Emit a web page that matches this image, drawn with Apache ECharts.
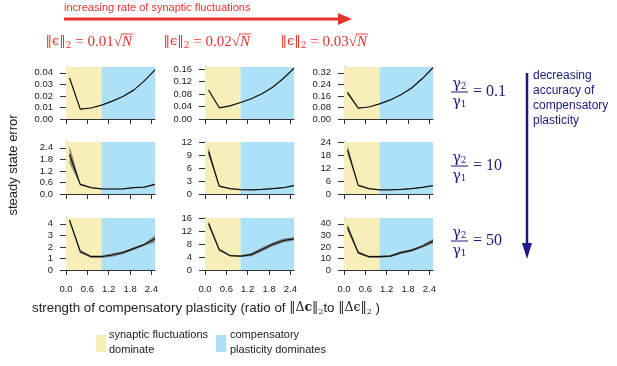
<!DOCTYPE html>
<html>
<head>
<meta charset="utf-8">
<script src="https://cdn.jsdelivr.net/npm/echarts@6/dist/echarts.min.js"></script>
<style>
html, body { margin: 0; padding: 0; background: #fff; }
#main { width: 617px; height: 366px; }
</style>
</head>
<body>
<div id="main"></div>
<script>
// strength of compensatory plasticity (x) shared by all panels
var xs = [0.1, 0.4, 0.7, 1.0, 1.3, 1.6, 1.9, 2.2, 2.5];
var xTicks = [0, 0.6, 1.2, 1.8, 2.4];
var xEnd = 2.5;
var switchX = 1.0; // synaptic fluctuations dominate below, compensatory plasticity above

// row 1 : gamma2/gamma1 = 0.1
var err_r1c1 = [0.0355, 0.0085, 0.0095, 0.012, 0.0155, 0.0195, 0.025, 0.033, 0.0425];
var sd_r1c1  = [0.0005, 0.0002, 0.0002, 0.0002, 0.0002, 0.0002, 0.0002, 0.0003, 0.0003];
var err_r1c2 = [0.093, 0.036, 0.042, 0.053, 0.065, 0.081, 0.102, 0.13, 0.163];
var sd_r1c2  = [0.002, 0.001, 0.001, 0.001, 0.001, 0.001, 0.001, 0.001, 0.001];
var err_r1c3 = [0.182, 0.075, 0.083, 0.105, 0.132, 0.168, 0.215, 0.28, 0.355];
var sd_r1c3  = [0.012, 0.002, 0.002, 0.002, 0.002, 0.002, 0.003, 0.004, 0.003];
// row 2 : gamma2/gamma1 = 10
var err_r2c1 = [2.05, 0.5, 0.33, 0.27, 0.26, 0.27, 0.33, 0.36, 0.5];
var sd_r2c1  = [0.45, 0.04, 0.02, 0.02, 0.02, 0.02, 0.02, 0.02, 0.03];
var err_r2c2 = [9.8, 1.8, 1.25, 1.0, 0.95, 1.05, 1.25, 1.45, 1.95];
var sd_r2c2  = [1.0, 0.15, 0.08, 0.06, 0.06, 0.06, 0.08, 0.08, 0.1];
var err_r2c3 = [20.5, 4.0, 2.5, 1.9, 1.9, 2.1, 2.5, 3.1, 3.9];
var sd_r2c3  = [2.0, 0.3, 0.15, 0.1, 0.1, 0.12, 0.15, 0.15, 0.2];
// row 3 : gamma2/gamma1 = 50
var err_r3c1 = [4.3, 1.6, 1.15, 1.15, 1.3, 1.5, 1.85, 2.2, 2.7];
var sd_r3c1  = [0.12, 0.15, 0.1, 0.1, 0.15, 0.12, 0.12, 0.1, 0.3];
var err_r3c2 = [14.5, 6.3, 4.5, 4.3, 4.8, 6.4, 8.0, 9.2, 9.7];
var sd_r3c2  = [0.8, 0.4, 0.25, 0.25, 0.5, 0.6, 0.6, 0.6, 0.5];
var err_r3c3 = [37, 15, 11.5, 11.5, 12, 15, 17, 20.5, 25];
var sd_r3c3  = [3.0, 1.2, 0.8, 0.8, 1.0, 1.2, 1.2, 1.2, 2.0];

// y tick labels per panel
var yTicks_r1c1 = [0, 0.01, 0.02, 0.03, 0.04];
var yTicks_r1c2 = [0, 0.04, 0.08, 0.12, 0.16];
var yTicks_r1c3 = [0, 0.08, 0.16, 0.24, 0.32];
var yTicks_r2c1 = [0, 0.6, 1.2, 1.8, 2.4];
var yTicks_r2c2 = [0, 3, 6, 9, 12];
var yTicks_r2c3 = [0, 6, 12, 18, 24];
var yTicks_r3c1 = [0, 1, 2, 3, 4];
var yTicks_r3c2 = [0, 4, 8, 12, 16];
var yTicks_r3c3 = [0, 10, 20, 30, 40];

var epsLabels = ['0.01', '0.02', '0.03'];
var gammaLabels = ['0.1', '10', '50'];

var panels = [
    {mean: err_r1c1, sd: sd_r1c1, ticks: yTicks_r1c1, max: 0.045, dec: 2},
    {mean: err_r1c2, sd: sd_r1c2, ticks: yTicks_r1c2, max: 0.167, dec: 2},
    {mean: err_r1c3, sd: sd_r1c3, ticks: yTicks_r1c3, max: 0.36,  dec: 2},
    {mean: err_r2c1, sd: sd_r2c1, ticks: yTicks_r2c1, max: 2.7,   dec: 1},
    {mean: err_r2c2, sd: sd_r2c2, ticks: yTicks_r2c2, max: 12,    dec: 0},
    {mean: err_r2c3, sd: sd_r2c3, ticks: yTicks_r2c3, max: 24,    dec: 0},
    {mean: err_r3c1, sd: sd_r3c1, ticks: yTicks_r3c1, max: 4.5,   dec: 0},
    {mean: err_r3c2, sd: sd_r3c2, ticks: yTicks_r3c2, max: 16.2,  dec: 0},
    {mean: err_r3c3, sd: sd_r3c3, ticks: yTicks_r3c3, max: 45,    dec: 0}
];

var colLeft = [66, 205, 344];
var rowTop = [67, 142, 218];
var YELLOW = '#f7eeb8', BLUE = '#ade1f7';
var RED = '#e8332c', NAVY = '#1a1a80';
var SANS = '"Liberation Sans", Arial, sans-serif';
var SERIF = '"DejaVu Serif", serif';
var TIMES = '"Liberation Serif", serif';

var grids = [], xAxes = [], yAxes = [], series = [];

// polygon of mean +- spread, placed through the grid's own axes
function bandRenderer(p) {
    return function (params, api) {
        var pts = [];
        for (var k = 0; k < xs.length; k++) {
            pts.push(api.coord([xs[k], p.mean[k] + p.sd[k]]));
        }
        for (var k = xs.length - 1; k >= 0; k--) {
            pts.push(api.coord([xs[k], p.mean[k] - p.sd[k]]));
        }
        return {type: 'polygon', shape: {points: pts}, style: {fill: '#6f6f6f', opacity: 0.8}};
    };
}

panels.forEach(function (p, i) {
    var r = Math.floor(i / 3), c = i % 3;
    grids.push({left: colLeft[c], top: rowTop[r], width: 89, height: 52});
    xAxes.push({
        type: 'value', gridIndex: i, min: 0, max: xEnd, offset: 10,
        axisLine: {show: true, lineStyle: {color: '#333', width: 1}},
        axisTick: {show: true, customValues: xTicks, length: 5, lineStyle: {color: '#333'}},
        axisLabel: {
            show: r === 2, customValues: xTicks, margin: 4,
            fontSize: 9.5, fontFamily: SANS, color: '#222',
            formatter: function (v) { return v.toFixed(1); }
        },
        splitLine: {show: false}
    });
    yAxes.push({
        type: 'value', gridIndex: i, min: 0, max: p.max, offset: 4,
        axisLine: {show: true, lineStyle: {color: '#333', width: 1}},
        axisTick: {show: true, customValues: p.ticks, length: 6, lineStyle: {color: '#333'}},
        axisLabel: {
            customValues: p.ticks, margin: 9,
            fontSize: 9.5, fontFamily: SANS, color: '#222',
            formatter: function (v) { return v.toFixed(p.dec); }
        },
        splitLine: {show: false}
    });

    series.push({
        type: 'custom', xAxisIndex: i, yAxisIndex: i, silent: true, clip: true, z: 3,
        data: [[xs[0], p.mean[0]]],
        renderItem: bandRenderer(p)
    });
    series.push({
        type: 'line', xAxisIndex: i, yAxisIndex: i, z: 4,
        symbol: 'none', silent: true,
        lineStyle: {color: '#111', width: 1.2},
        data: xs.map(function (x, k) { return [x, p.mean[k]]; }),
        markArea: {
            silent: true, z: 1,
            data: [
                [{xAxis: 0, itemStyle: {color: YELLOW}}, {xAxis: switchX}],
                [{xAxis: switchX, itemStyle: {color: BLUE}}, {xAxis: xEnd}]
            ]
        }
    });
});

// ||eps||_2 = 0.01 sqrt(N) ; xr = where the N starts
function header(xr, txt) {
    return [
        {type: 'text', x: xr, y: 42,
            style: {
                text: '{e|‖ϵ‖}{b|2}{a| = ' + txt + '√}',
                align: 'right', verticalAlign: 'middle',
                rich: {
                    e: {fontSize: 13, fontFamily: SERIF, fill: RED},
                    a: {fontSize: 15, fontFamily: TIMES, fill: RED},
                    b: {fontSize: 9, fontFamily: SERIF, fill: RED, padding: [7, 0, 0, 0]}
                }
            }},
        {type: 'text', x: xr, y: 42,
            style: {text: 'N', font: 'italic 15px ' + TIMES, fill: RED, verticalAlign: 'middle'}},
        {type: 'line', shape: {x1: xr - 1, y1: 34, x2: xr + 11, y2: 34}, style: {stroke: RED, lineWidth: 0.9}}
    ];
}

function ratio(y, val) {
    var rich = {
        g: {fontSize: 14, fontFamily: SERIF, fill: NAVY},
        s: {fontSize: 9, fontFamily: SERIF, fill: NAVY, padding: [6, 0, 0, 0]}
    };
    return [
        {type: 'text', x: 459.5, y: y - 8, style: {text: '{g|γ}{s|2}', rich: rich, align: 'center', verticalAlign: 'middle'}},
        {type: 'line', shape: {x1: 451, y1: y, x2: 468, y2: y}, style: {stroke: NAVY, lineWidth: 1}},
        {type: 'text', x: 459.5, y: y + 10, style: {text: '{g|γ}{s|1}', rich: rich, align: 'center', verticalAlign: 'middle'}},
        {type: 'text', x: 473, y: y, style: {text: '= ' + val, font: '16px ' + TIMES, fill: NAVY, verticalAlign: 'middle'}}
    ];
}

var graphics = [
    {type: 'text', x: 64, y: 8, style: {text: 'increasing rate of synaptic fluctuations', font: '11px ' + SANS, fill: RED, verticalAlign: 'middle'}},
    {type: 'line', shape: {x1: 64, y1: 19, x2: 340, y2: 19}, style: {stroke: RED, lineWidth: 3}},
    {type: 'polygon', shape: {points: [[338, 13], [352, 19], [338, 25]]}, style: {fill: RED}},
    {type: 'text', x: 13, y: 165, rotation: Math.PI / 2,
        style: {text: 'steady state error', font: '13px ' + SANS, fill: '#222', align: 'center', verticalAlign: 'middle'}},
    {type: 'line', shape: {x1: 527, y1: 73, x2: 527, y2: 246}, style: {stroke: NAVY, lineWidth: 2.5}},
    {type: 'polygon', shape: {points: [[522, 243], [532, 243], [527, 259]]}, style: {fill: NAVY}},
    {type: 'text', x: 533, y: 68,
        style: {text: 'decreasing\naccuracy of\ncompensatory\nplasticity', font: '12px ' + SANS, fill: NAVY, lineHeight: 15}},
    {type: 'text', x: 32, y: 308,
        style: {
            text: '{t|strength of compensatory plasticity (ratio of }{m|‖Δ}{mb|c}{m|‖}{s|2}{t|to }{m|‖Δϵ‖}{s|2}{t| )}',
            verticalAlign: 'middle',
            rich: {
                t: {fontSize: 13.3, fontFamily: SANS, fill: '#222'},
                m: {fontSize: 12.5, fontFamily: SERIF, fill: '#222'},
                mb: {fontSize: 12.5, fontFamily: SERIF, fontWeight: 'bold', fill: '#222'},
                s: {fontSize: 8, fontFamily: SERIF, fill: '#222', padding: [7, 0, 0, 0]}
            }
        }},
    {type: 'rect', shape: {x: 96, y: 335, width: 10, height: 17}, style: {fill: YELLOW}},
    {type: 'text', x: 109, y: 327, style: {text: 'synaptic fluctuations\ndominate', font: '11px ' + SANS, fill: '#222', lineHeight: 15}},
    {type: 'rect', shape: {x: 216, y: 335, width: 10, height: 17}, style: {fill: BLUE}},
    {type: 'text', x: 230, y: 327, style: {text: 'compensatory\nplasticity dominates', font: '11px ' + SANS, fill: '#222', lineHeight: 15}}
];
var headerRight = [122, 240, 357];
epsLabels.forEach(function (t, c) { graphics = graphics.concat(header(headerRight[c], t)); });
var ratioY = [92, 166, 241];
gammaLabels.forEach(function (t, r) { graphics = graphics.concat(ratio(ratioY[r], t)); });

var chart = echarts.init(document.getElementById('main'));
chart.setOption({
    animation: false,
    backgroundColor: '#fff',
    grid: grids,
    xAxis: xAxes,
    yAxis: yAxes,
    series: series,
    graphic: graphics
});
</script>
</body>
</html>
